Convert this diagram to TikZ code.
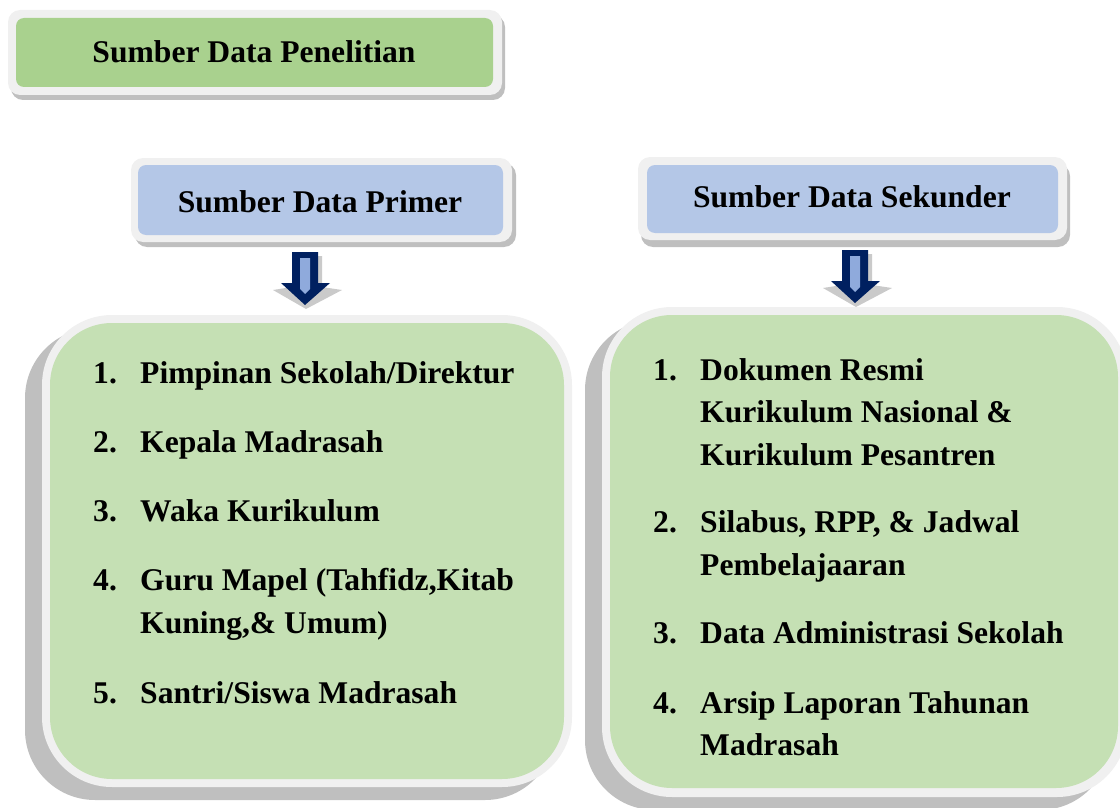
\documentclass[tikz,border=0pt]{standalone}
\usepackage{fontspec}
\setmainfont{Liberation Serif}
\definecolor{shd}{HTML}{BFBFBF}
\definecolor{rim}{HTML}{F0F0F0}
\definecolor{gtop}{HTML}{A9D18E}
\definecolor{bsub}{HTML}{B4C7E7}
\definecolor{gbig}{HTML}{C5E0B4}
\definecolor{navy}{HTML}{002060}
\definecolor{lblue}{HTML}{8FAADC}
\definecolor{ashd}{HTML}{CACACA}
\begin{document}
\begin{tikzpicture}[x=1pt,y=-1pt,
  txt/.style={font=\bfseries\fontsize{31.6}{42}\selectfont, inner sep=0pt, anchor=base west},
  hd/.style={font=\bfseries\fontsize{31.6}{42}\selectfont, inner sep=0pt, anchor=base},
  smallbox/.style={rounded corners=12},
  innersmall/.style={rounded corners=8},
  bigbox/.style={rounded corners=70},
  innerbig/.style={rounded corners=62},
  blockarrow/.pic={
    \fill[ashd] (-9,4) -- (17,4) -- (17,35) -- (37,38) -- (1,57) -- (-32,38) -- (-13,35) -- cycle;
    \fill[navy] (-13,0) -- (13,0) -- (13,31) -- (25,31) -- (0,53) -- (-24,31) -- (-13,31) -- cycle;
    \fill[lblue] (-5,6) -- (5,6) -- (5,37) -- (0,42) -- (-5,37) -- cycle;
  }]
\useasboundingbox (0,0) rectangle (1120,808);
\clip (0,0) rectangle (1120,808);

% title box
\fill[shd, smallbox] (11,15) rectangle (505,100);
\fill[rim, smallbox] (8,10) rectangle (502,95);
\fill[gtop, innersmall] (16,18) rectangle (493,87);
\node[hd] (title) at (254,63) {Sumber Data Penelitian};

% primer box
\fill[shd, smallbox] (135,163) rectangle (516,247);
\fill[rim, smallbox] (131,158) rectangle (512,242);
\fill[bsub, innersmall] (138,165) rectangle (503,235);
\node[hd] (primer) at (320,212) {Sumber Data Primer};

% sekunder box
\fill[shd, smallbox] (641,164) rectangle (1070,247);
\fill[rim, smallbox] (638,157) rectangle (1067,240);
\fill[bsub, innersmall] (647,165) rectangle (1058,233);
\node[hd] (sekunder) at (852,207) {Sumber Data Sekunder};

% arrows
\pic at (305,252) {blockarrow};
\pic at (855,250) {blockarrow};

% left big box
\fill[shd, bigbox] (25,328) rectangle (555,800);
\fill[rim, bigbox] (42,315) rectangle (572,787);
\fill[gbig, innerbig] (50,323) rectangle (564,779);

% right big box
\fill[shd, bigbox] (585,320) rectangle (1110,810);
\fill[rim, bigbox] (602,307) rectangle (1127,797);
\fill[gbig, innerbig] (610,315) rectangle (1118,788);

% primer list
\node[txt] (pn1) at (93,383) {1.};
\node[txt] (pt1) at (140,383) {Pimpinan Sekolah/Direktur};
\node[txt] (pn2) at (93,452) {2.};
\node[txt] (pt2) at (140,452) {Kepala Madrasah};
\node[txt] (pn3) at (93,521) {3.};
\node[txt] (pt3) at (140,521) {Waka Kurikulum};
\node[txt] (pn4) at (93,590) {4.};
\node[txt] (pt4a) at (140,590) {Guru Mapel (Tahfidz,Kitab};
\node[txt] (pt4b) at (140,633) {Kuning,\& Umum)};
\node[txt] (pn5) at (93,703) {5.};
\node[txt] (pt5) at (140,703) {Santri/Siswa Madrasah};

% sekunder list
\node[txt] (sn1) at (653,380) {1.};
\node[txt] (st1a) at (700,380) {Dokumen Resmi};
\node[txt] (st1b) at (700,422) {Kurikulum Nasional \&};
\node[txt] (st1c) at (700,465) {Kurikulum Pesantren};
\node[txt] (sn2) at (653,532) {2.};
\node[txt] (st2a) at (700,532) {Silabus, RPP, \& Jadwal};
\node[txt] (st2b) at (700,575) {Pembelajaaran};
\node[txt] (sn3) at (653,643) {3.};
\node[txt] (st3) at (700,643) {Data Administrasi Sekolah};
\node[txt] (sn4) at (653,713) {4.};
\node[txt] (st4a) at (700,713) {Arsip Laporan Tahunan};
\node[txt] (st4b) at (700,755) {Madrasah};
\end{tikzpicture}
\end{document}
